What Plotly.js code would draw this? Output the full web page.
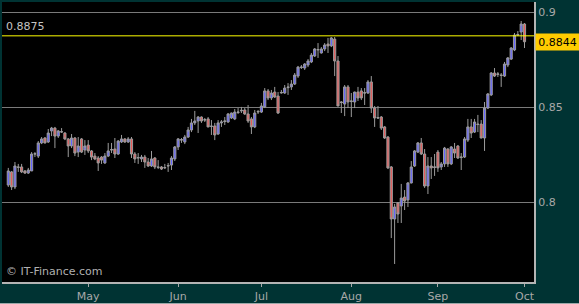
<!DOCTYPE html>
<html>
<head>
<meta charset="utf-8">
<script src="https://cdn.plot.ly/plotly-3.0.1.min.js"></script>
<style>html,body{margin:0;padding:0;background:#003333;}#chart{width:579px;height:304px;}</style>
</head>
<body>
<div id="chart"></div>
<script>
// Daily candles (Sun-Fri sessions), 2013-04-03 .. 2013-10-01
var firstDay = '2013-04-03';
var lastDay = '2013-10-01';

var openVals = [0.8092,0.8161,0.8082,0.8187,0.8187,0.8166,0.8155,0.8166,0.8255,0.8244,
0.8313,0.8339,0.8318,0.8376,0.8391,0.8349,0.8370,0.8365,0.8334,0.8297,
0.8339,0.8265,0.8334,0.8276,0.8302,0.8271,0.8244,0.8234,0.8239,0.8208,
0.8244,0.8276,0.8281,0.8255,0.8318,0.8334,0.8318,0.8334,0.8255,0.8234,
0.8229,0.8239,0.8213,0.8192,0.8234,0.8187,0.8187,0.8182,0.8192,0.8197,
0.8229,0.8292,0.8328,0.8318,0.8344,0.8381,0.8418,0.8428,0.8449,0.8433,
0.8439,0.8399,0.8402,0.8360,0.8418,0.8425,0.8423,0.8444,0.8439,0.8473,
0.8481,0.8486,0.8465,0.8439,0.8397,0.8475,0.8475,0.8502,0.8586,0.8549,
0.8580,0.8559,0.8575,0.8575,0.8603,0.8607,0.8622,0.8664,0.8709,0.8706,
0.8722,0.8738,0.8769,0.8801,0.8785,0.8806,0.8832,0.8822,0.8858,0.8743,
0.8528,0.8517,0.8607,0.8530,0.8528,0.8580,0.8586,0.8577,0.8575,0.8633,
0.8496,0.8446,0.8449,0.8397,0.8344,0.8187,0.7914,0.7998,0.7982,0.8029,
0.8014,0.8103,0.8192,0.8265,0.8313,0.8255,0.8087,0.8192,0.8184,0.8265,
0.8187,0.8203,0.8281,0.8203,0.8281,0.8297,0.8236,0.8239,0.8328,0.8397,
0.8370,0.8412,0.8412,0.8339,0.8496,0.8565,0.8680,0.8672,0.8670,0.8664,
0.8722,0.8753,0.8801,0.8879,0.8895,0.8937];

var highVals = [0.8182,0.8166,0.8213,0.8203,0.8203,0.8171,0.8182,0.8265,0.8265,0.8323,
0.8344,0.8344,0.8386,0.8397,0.8397,0.8381,0.8391,0.8370,0.8339,0.8360,
0.8344,0.8344,0.8339,0.8328,0.8328,0.8276,0.8260,0.8244,0.8244,0.8260,
0.8313,0.8313,0.8339,0.8328,0.8355,0.8339,0.8344,0.8344,0.8265,0.8260,
0.8250,0.8250,0.8234,0.8271,0.8239,0.8223,0.8192,0.8203,0.8208,0.8244,
0.8297,0.8339,0.8339,0.8355,0.8397,0.8439,0.8481,0.8454,0.8452,0.8444,
0.8449,0.8433,0.8418,0.8433,0.8433,0.8449,0.8470,0.8472,0.8491,0.8496,
0.8502,0.8496,0.8512,0.8449,0.8486,0.8486,0.8523,0.8601,0.8596,0.8591,
0.8607,0.8580,0.8591,0.8617,0.8627,0.8643,0.8680,0.8717,0.8722,0.8732,
0.8753,0.8785,0.8811,0.8837,0.8816,0.8837,0.8864,0.8869,0.8869,0.8769,
0.8533,0.8617,0.8617,0.8575,0.8582,0.8607,0.8601,0.8601,0.8643,0.8664,
0.8507,0.8507,0.8454,0.8402,0.8349,0.8192,0.7993,0.8003,0.8098,0.8066,
0.8108,0.8218,0.8276,0.8318,0.8339,0.8281,0.8239,0.8239,0.8255,0.8276,
0.8213,0.8292,0.8286,0.8297,0.8313,0.8302,0.8260,0.8344,0.8439,0.8439,
0.8439,0.8460,0.8433,0.8528,0.8575,0.8685,0.8706,0.8685,0.8680,0.8738,
0.8764,0.8816,0.8890,0.8900,0.8953,0.8942];

var lowVals = [0.8082,0.8066,0.8071,0.8161,0.8155,0.8150,0.8150,0.8166,0.8239,0.8234,
0.8307,0.8310,0.8313,0.8349,0.8286,0.8339,0.8365,0.8328,0.8239,0.8286,
0.8244,0.8239,0.8260,0.8250,0.8260,0.8223,0.8223,0.8166,0.8203,0.8203,
0.8239,0.8260,0.8234,0.8250,0.8313,0.8313,0.8313,0.8234,0.8208,0.8203,
0.8213,0.8182,0.8187,0.8187,0.8176,0.8176,0.8171,0.8176,0.8161,0.8171,
0.8218,0.8276,0.8313,0.8307,0.8339,0.8370,0.8407,0.8365,0.8418,0.8423,
0.8395,0.8355,0.8328,0.8355,0.8397,0.8407,0.8418,0.8439,0.8433,0.8465,
0.8470,0.8460,0.8418,0.8360,0.8391,0.8465,0.8470,0.8496,0.8538,0.8538,
0.8549,0.8465,0.8572,0.8570,0.8565,0.8591,0.8617,0.8654,0.8701,0.8696,
0.8711,0.8732,0.8764,0.8759,0.8782,0.8795,0.8785,0.8816,0.8664,0.8505,
0.8470,0.8454,0.8496,0.8449,0.8496,0.8533,0.8538,0.8512,0.8570,0.8470,
0.8397,0.8439,0.8381,0.8334,0.8176,0.7814,0.7678,0.7893,0.7893,0.7961,
0.7977,0.8101,0.8187,0.8260,0.8250,0.8077,0.8045,0.8124,0.8140,0.8161,
0.8171,0.8187,0.8187,0.8197,0.8234,0.8229,0.8171,0.8234,0.8318,0.8339,
0.8365,0.8370,0.8337,0.8271,0.8491,0.8559,0.8659,0.8659,0.8607,0.8659,
0.8711,0.8748,0.8795,0.8874,0.8853,0.8811];

var closeVals = [0.8166,0.8082,0.8192,0.8185,0.8161,0.8155,0.8171,0.8255,0.8256,0.8313,
0.8334,0.8313,0.8365,0.8391,0.8349,0.8376,0.8372,0.8334,0.8297,0.8339,
0.8260,0.8297,0.8265,0.8297,0.8271,0.8239,0.8229,0.8208,0.8223,0.8244,
0.8271,0.8278,0.8255,0.8323,0.8334,0.8318,0.8334,0.8255,0.8229,0.8236,
0.8239,0.8213,0.8192,0.8229,0.8187,0.8185,0.8176,0.8184,0.8194,0.8234,
0.8292,0.8334,0.8330,0.8344,0.8381,0.8418,0.8428,0.8449,0.8428,0.8435,
0.8397,0.8401,0.8355,0.8418,0.8423,0.8428,0.8465,0.8470,0.8475,0.8475,
0.8484,0.8465,0.8428,0.8397,0.8470,0.8478,0.8507,0.8586,0.8549,0.8575,
0.8554,0.8470,0.8578,0.8601,0.8606,0.8622,0.8669,0.8711,0.8711,0.8727,
0.8743,0.8774,0.8806,0.8803,0.8806,0.8827,0.8822,0.8864,0.8743,0.8507,
0.8525,0.8607,0.8528,0.8533,0.8580,0.8549,0.8549,0.8575,0.8633,0.8496,
0.8444,0.8444,0.8391,0.8339,0.8182,0.7914,0.7977,0.7940,0.8024,0.8008,
0.8103,0.8187,0.8271,0.8313,0.8255,0.8087,0.8192,0.8182,0.8187,0.8182,
0.8203,0.8286,0.8203,0.8292,0.8260,0.8234,0.8239,0.8334,0.8397,0.8365,
0.8423,0.8410,0.8339,0.8496,0.8570,0.8680,0.8664,0.8675,0.8667,0.8727,
0.8759,0.8811,0.8879,0.8882,0.8937,0.8844];

var levelLine = 0.8875;
var lastPrice = 0.8844;
var yTickVals = [0.8, 0.85, 0.9];
var yTickText = ['0.8', '0.85', '0.9'];
var xTickVals = ['2013-05-01', '2013-06-02', '2013-07-01', '2013-08-01', '2013-09-01', '2013-10-01'];
var xTickText = ['May', 'Jun', 'Jul', 'Aug', 'Sep', 'Oct'];

// trading-session calendar (no Saturday sessions)
var dates = [];
var t = Date.parse(firstDay + 'T00:00:00Z');
var tEnd = Date.parse(lastDay + 'T00:00:00Z');
while (t <= tEnd) {
  var dd = new Date(t);
  if (dd.getUTCDay() !== 6) dates.push(dd.toISOString().slice(0, 10));
  t += 86400000;
}

var FONT = 'DejaVu Sans, sans-serif';
var trace = {
  type: 'candlestick',
  x: dates, open: openVals, high: highVals, low: lowVals, close: closeVals,
  increasing: {line: {color: '#9c9c9c', width: 1}, fillcolor: '#6464ff'},
  decreasing: {line: {color: '#9c9c9c', width: 1}, fillcolor: '#e85a5a'},
  whiskerwidth: 0,
  hoverinfo: 'skip'
};

var layout = {
  width: 579, height: 304,
  margin: {l: 2, r: 45, t: 2, b: 22, pad: 0},
  paper_bgcolor: '#003333',
  plot_bgcolor: '#000000',
  showlegend: false,
  hovermode: false,
  boxgap: 0.08,
  font: {family: FONT, size: 11, color: '#a8a8a8'},
  xaxis: {
    type: 'date',
    range: ['2013-04-01 02:40', '2013-10-03 20:25'],
    rangebreaks: [{bounds: ['sat', 'sun']}],
    rangeslider: {visible: false},
    tickvals: xTickVals, ticktext: xTickText,
    ticks: 'outside', ticklen: 3, tickwidth: 1, tickcolor: '#a8a8a8',
    tickfont: {family: FONT, size: 11, color: '#a8a8a8'},
    showgrid: false, zeroline: false,
    showline: true, linecolor: '#b4b4b4', linewidth: 2,
    fixedrange: true
  },
  yaxis: {
    side: 'right',
    range: [0.75834, 0.90525],
    tickvals: yTickVals, ticktext: yTickText,
    ticks: '',
    tickfont: {family: FONT, size: 11, color: '#a8a8a8'},
    showgrid: true, gridcolor: '#7a7a7a', gridwidth: 1,
    zeroline: false,
    showline: true, linecolor: '#b4b4b4', linewidth: 2,
    fixedrange: true
  },
  shapes: [
    {type: 'line', xref: 'paper', x0: 0, x1: 1, yref: 'y', y0: levelLine, y1: levelLine,
     line: {color: '#ffff00', width: 1}},
    {type: 'line', xref: 'paper', x0: -0.004, x1: 1.085, yref: 'paper', y0: -0.0768, y1: -0.0768,
     line: {color: '#9aa8a8', width: 1}}
  ],
  annotations: [
    {xref: 'paper', x: 0, xanchor: 'left', xshift: 2, yref: 'y', y: levelLine, yanchor: 'bottom', yshift: 1,
     text: '0.8875', showarrow: false, font: {family: FONT, size: 11, color: '#c4c4c4'}},
    {xref: 'paper', x: 1, xanchor: 'left', xshift: 1, yref: 'y', y: lastPrice, yanchor: 'middle',
     text: '0.8844', showarrow: false, bgcolor: '#ffcc00', borderpad: 1, width: 41, height: 14,
     font: {family: FONT, size: 11, color: '#000000'}},
    {xref: 'paper', x: 0, xanchor: 'left', xshift: 2, yref: 'paper', y: 0, yanchor: 'bottom', yshift: 2,
     text: '© IT-Finance.com', showarrow: false, font: {family: FONT, size: 11, color: '#b0b0b0'}}
  ]
};

Plotly.newPlot('chart', [trace], layout, {displayModeBar: false, staticPlot: true});
</script>
</body>
</html>
